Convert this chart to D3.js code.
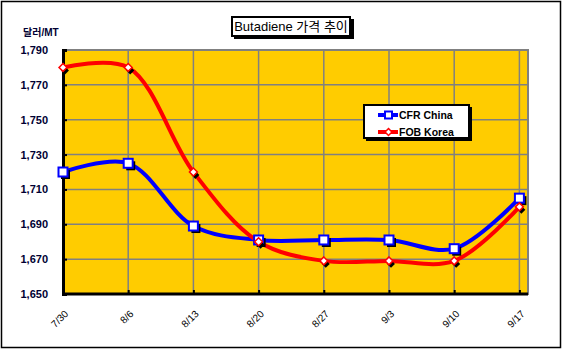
<!DOCTYPE html>
<html>
<head>
<meta charset="utf-8">
<script src="https://cdn.jsdelivr.net/npm/d3@7"></script>
<style>
  body { margin: 0; background: #fff; }
  text { font-family: 'Liberation Sans', Arial, 'Noto Sans CJK KR', sans-serif; font-weight: bold; }
</style>
</head>
<body>
<div id="chart"></div>
<script>
var dates = ['7/30', '8/6', '8/13', '8/20', '8/27', '9/3', '9/10', '9/17']
var cfrChina = [1720, 1725, 1689, 1681, 1681, 1681, 1676, 1705]
var fobKorea = [1780, 1780, 1720, 1680, 1669, 1669, 1669, 1700]
var yTicks = [1650, 1670, 1690, 1710, 1730, 1750, 1770, 1790]

var width = 563
var height = 352
var plot = { left: 63, top: 50, right: 528, bottom: 294 }

var svg = d3.select('#chart').append('svg')
  .attr('width', width)
  .attr('height', height)

// outer frame
svg.append('rect')
  .attr('x', 1.5).attr('y', 1.5)
  .attr('width', 559).attr('height', 346)
  .attr('fill', '#fff')
  .attr('stroke', '#000')
  .attr('stroke-width', 1.5)

var x = d3.scalePoint()
  .domain(dates)
  .range([plot.left, plot.left + 65.2 * 7])

var y = d3.scaleLinear()
  .domain([1650, 1790])
  .range([plot.bottom, plot.top])

// plot background + grey border (shadow side)
svg.append('rect')
  .attr('x', plot.left).attr('y', plot.top)
  .attr('width', plot.right - plot.left).attr('height', plot.bottom - plot.top)
  .attr('fill', '#FFCC00')
  .attr('stroke', '#808080')
  .attr('stroke-width', 2)

// gridlines
svg.append('g').selectAll('line.h')
  .data(yTicks.slice(1, -1))
  .enter().append('line')
  .attr('x1', plot.left).attr('x2', plot.right)
  .attr('y1', function(d) { return y(d) }).attr('y2', function(d) { return y(d) })
  .attr('stroke', '#808080').attr('stroke-width', 1.5)

svg.append('g').selectAll('line.v')
  .data(dates.slice(1))
  .enter().append('line')
  .attr('x1', function(d) { return x(d) }).attr('x2', function(d) { return x(d) })
  .attr('y1', plot.top).attr('y2', plot.bottom)
  .attr('stroke', '#808080').attr('stroke-width', 1.5)

// axes (left + bottom black)
var yAxis = d3.axisLeft(y).tickValues(yTicks).tickSize(-4).tickPadding(15)
  .tickFormat(d3.format(','))
var gy = svg.append('g')
  .attr('transform', 'translate(' + plot.left + ',0)')
  .call(yAxis)
gy.select('.domain').attr('stroke', '#000').attr('stroke-width', 3)
gy.selectAll('.tick line').attr('stroke', '#000').attr('stroke-width', 2)
gy.selectAll('.tick text')
  .attr('fill', '#000033')
  .style('font-size', '11px')

var xAxis = d3.axisBottom(x).tickSize(-4).tickSizeOuter(0).tickPadding(0)
var gx = svg.append('g')
  .attr('transform', 'translate(0,' + plot.bottom + ')')
  .call(xAxis)
gx.select('.domain')
  .attr('d', 'M' + plot.left + ',0H' + plot.right)
  .attr('stroke', '#000').attr('stroke-width', 3)
gx.selectAll('.tick line').attr('stroke', '#000').attr('stroke-width', 2)
gx.selectAll('.tick text')
  .attr('fill', '#000')
  .style('font-size', '10px')
  .style('font-weight', 'normal')
  .attr('text-anchor', 'end')
  .attr('y', 0)
  .attr('dy', '0.35em')
  .attr('transform', 'translate(3,18) rotate(-45)')

// y unit label
svg.append('text')
  .attr('x', 23).attr('y', 36)
  .style('font-size', '10px')
  .attr('fill', '#000033')
  .text('달러/MT')

// lines
var line = d3.line()
  .x(function(d, i) { return x(dates[i]) })
  .y(function(d) { return y(d) })
  .curve(d3.curveCatmullRom.alpha(0.5))

var series = [
  { name: 'CFR China', values: cfrChina, color: '#0000FF', marker: 'square' },
  { name: 'FOB Korea', values: fobKorea, color: '#FF0000', marker: 'diamond' }
]

series.forEach(function(s) {
  svg.append('path')
    .datum(s.values)
    .attr('d', line)
    .attr('fill', 'none')
    .attr('stroke', s.color)
    .attr('stroke-width', 4)
})

function drawMarker(g, type, cx, cy, color) {
  if (type === 'square') {
    g.append('rect')
      .attr('x', cx - 4 + 2).attr('y', cy - 4 + 2)
      .attr('width', 9).attr('height', 9).attr('fill', '#000')
    g.append('rect')
      .attr('x', cx - 4.5).attr('y', cy - 4.5)
      .attr('width', 9).attr('height', 9)
      .attr('fill', '#fff').attr('stroke', color).attr('stroke-width', 2)
  } else {
    var sym = d3.symbol().type(d3.symbolDiamond2).size(40)
    g.append('path').attr('d', sym())
      .attr('transform', 'translate(' + (cx + 2) + ',' + (cy + 3) + ')')
      .attr('fill', '#000')
    g.append('path').attr('d', sym())
      .attr('transform', 'translate(' + cx + ',' + cy + ')')
      .attr('fill', '#fff').attr('stroke', color).attr('stroke-width', 1.5)
  }
}

series.forEach(function(s) {
  var g = svg.append('g')
  s.values.forEach(function(v, i) {
    drawMarker(g, s.marker, x(dates[i]), y(v), s.color)
  })
})

// title box
svg.append('rect')
  .attr('x', 234).attr('y', 19).attr('width', 120).attr('height', 20)
  .attr('fill', '#000')
svg.append('rect')
  .attr('x', 232).attr('y', 17).attr('width', 118).attr('height', 19)
  .attr('fill', '#fff').attr('stroke', '#000').attr('stroke-width', 2)
svg.append('text')
  .attr('x', 291).attr('y', 31)
  .attr('text-anchor', 'middle')
  .style('font-size', '13px')
  .style('font-weight', 'normal')
  .attr('fill', '#000')
  .text('Butadiene 가격 추이')

// legend
var lg = svg.append('g')
lg.append('rect')
  .attr('x', 366).attr('y', 107).attr('width', 106).attr('height', 34)
  .attr('fill', '#000')
lg.append('rect')
  .attr('x', 364).attr('y', 105).attr('width', 105).attr('height', 33)
  .attr('fill', '#fff').attr('stroke', '#000').attr('stroke-width', 2)

series.forEach(function(s, i) {
  var ly = 115 + i * 17
  lg.append('line')
    .attr('x1', 378).attr('x2', 398)
    .attr('y1', ly).attr('y2', ly)
    .attr('stroke', s.color).attr('stroke-width', 4)
  if (s.marker === 'square') {
    lg.append('rect')
      .attr('x', 385).attr('y', ly - 3.5).attr('width', 7).attr('height', 7)
      .attr('fill', '#fff').attr('stroke', s.color).attr('stroke-width', 2)
  } else {
    lg.append('path')
      .attr('d', d3.symbol().type(d3.symbolDiamond2).size(30)())
      .attr('transform', 'translate(388.5,' + ly + ')')
      .attr('fill', '#fff').attr('stroke', s.color).attr('stroke-width', 1.5)
  }
  lg.append('text')
    .attr('x', 399).attr('y', ly + 4)
    .style('font-size', '10.5px')
    .attr('fill', '#000')
    .text(s.name)
})
</script>
</body>
</html>
